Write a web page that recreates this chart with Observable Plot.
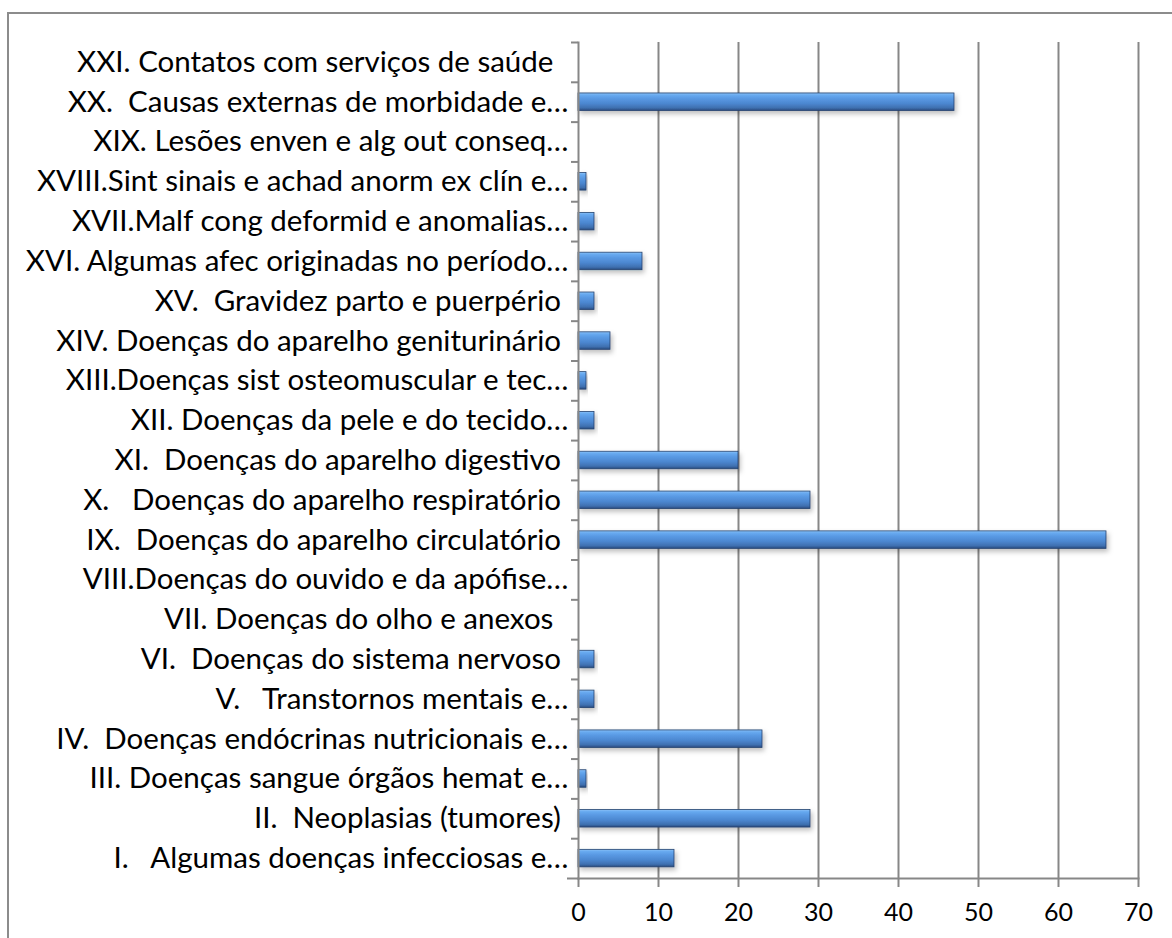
<!DOCTYPE html>
<html>
<head>
<meta charset="utf-8">
<script src="https://cdn.jsdelivr.net/npm/d3@7"></script>
<script src="https://cdn.jsdelivr.net/npm/@observablehq/plot@0.6"></script>
<style>
  html, body { margin: 0; padding: 0; background: #fff; overflow: hidden; }
  #wrap { position: relative; width: 1172px; height: 938px; }
  #border { position: absolute; left: 7px; top: 12px; width: 1300px; height: 1100px;
            border-top: 2px solid #8c8c8c; border-left: 2px solid #8c8c8c; pointer-events: none; }
</style>
</head>
<body>
<div id="wrap"><div id="border"></div></div>
<script>
const NB = "\u00a0";
const categories = [
  "XXI. Contatos com serviços de saúde" + NB + NB,
  "XX." + NB + " Causas externas de morbidade e…",
  "XIX. Lesões enven e alg out conseq…",
  "XVIII.Sint sinais e achad anorm ex clín e…",
  "XVII.Malf cong deformid e anomalias…",
  "XVI. Algumas afec originadas no período…",
  "XV." + NB + " Gravidez parto e puerpério" + NB,
  "XIV. Doenças do aparelho geniturinário" + NB,
  "XIII.Doenças sist osteomuscular e tec…",
  "XII. Doenças da pele e do tecido…",
  "XI." + NB + " Doenças do aparelho digestivo" + NB,
  "X." + NB + NB + " Doenças do aparelho respiratório" + NB,
  "IX." + NB + " Doenças do aparelho circulatório" + NB,
  "VIII.Doenças do ouvido e da apófise…",
  "VII. Doenças do olho e anexos" + NB + NB,
  "VI." + NB + " Doenças do sistema nervoso" + NB,
  "V." + NB + NB + " Transtornos mentais e…",
  "IV." + NB + " Doenças endócrinas nutricionais e…",
  "III. Doenças sangue órgãos hemat e…",
  "II." + NB + " Neoplasias (tumores)" + NB,
  "I." + NB + NB + " Algumas doenças infecciosas e…"
];
const values = [0, 47, 0, 1, 2, 8, 2, 4, 1, 2, 20, 29, 66, 0, 0, 2, 2, 23, 1, 29, 12];
const xTicks = [0, 10, 20, 30, 40, 50, 60, 70];

const data = categories.map((c, i) => ({category: c, value: values[i]}));

const W = 1172, H = 938;
const mT = 42, mB = 60, mL = 578, mR = 34;
const step = (H - mT - mB) / categories.length;
const barInset = (step - 17.5) / 2;

const chart = Plot.plot({
  width: W,
  height: H,
  marginTop: mT,
  marginBottom: mB,
  marginLeft: mL,
  marginRight: mR,
  style: {fontFamily: "Lato, Calibri, sans-serif", background: "transparent", color: "#000"},
  x: {domain: [0, 70], ticks: xTicks},
  y: {domain: categories, padding: 0, round: false},
  marks: [
    Plot.gridX(xTicks.slice(1), {stroke: "#878787", strokeOpacity: 1, strokeWidth: 2}),
    Plot.barX(data, {x: "value", y: "category", fill: "url(#barGrad)", filter: d => d.value > 0,
                     insetTop: barInset, insetBottom: barInset,
                     stroke: "#24436f", strokeWidth: 0.8}),
    Plot.frame({anchor: "left", stroke: "#878787", strokeWidth: 2}),
    Plot.frame({anchor: "bottom", stroke: "#878787", strokeWidth: 2}),
    Plot.axisY({tickSize: 7, dy: -step / 2, text: null, label: null, stroke: "#878787", strokeWidth: 2}),
    Plot.axisY({ticks: [categories[categories.length - 1]], tickSize: 11, dy: step / 2, text: null, label: null, stroke: "#878787", strokeWidth: 2}),
    Plot.axisY({tickSize: 0, tickPadding: 10, fontSize: 29.5, label: null, fill: "#000"}),
    Plot.axisX({ticks: xTicks, tickSize: 9, tickPadding: 16, fontSize: 25, label: null,
                stroke: "#878787", strokeWidth: 2, fill: "#000"})
  ]
});

// gradient + shadow definitions for the bevelled bars
const svg = d3.select(chart);
const defs = svg.insert("defs", ":first-child");
const g = defs.append("linearGradient").attr("id", "barGrad")
  .attr("x1", 0).attr("y1", 0).attr("x2", 0).attr("y2", 1);
[["0%", "#8cc2f7"], ["12%", "#68aaf0"], ["30%", "#5a9ae4"], ["60%", "#4c87d0"], ["85%", "#3f70b0"], ["100%", "#284a7e"]]
  .forEach(([o, c]) => g.append("stop").attr("offset", o).attr("stop-color", c));
const f = defs.append("filter").attr("id", "shadow").attr("x", "-10%").attr("y", "-30%").attr("width", "130%").attr("height", "200%");
f.append("feDropShadow").attr("dx", 2).attr("dy", 3).attr("stdDeviation", 2.5).attr("flood-color", "#000").attr("flood-opacity", 0.25);
svg.selectAll("rect").filter(function() { return this.getAttribute("fill") === "url(#barGrad)"; })
  .attr("filter", "url(#shadow)");
svg.selectAll("[aria-label='bar'] rect").attr("filter", "url(#shadow)");

document.getElementById("wrap").prepend(chart);
</script>
</body>
</html>
